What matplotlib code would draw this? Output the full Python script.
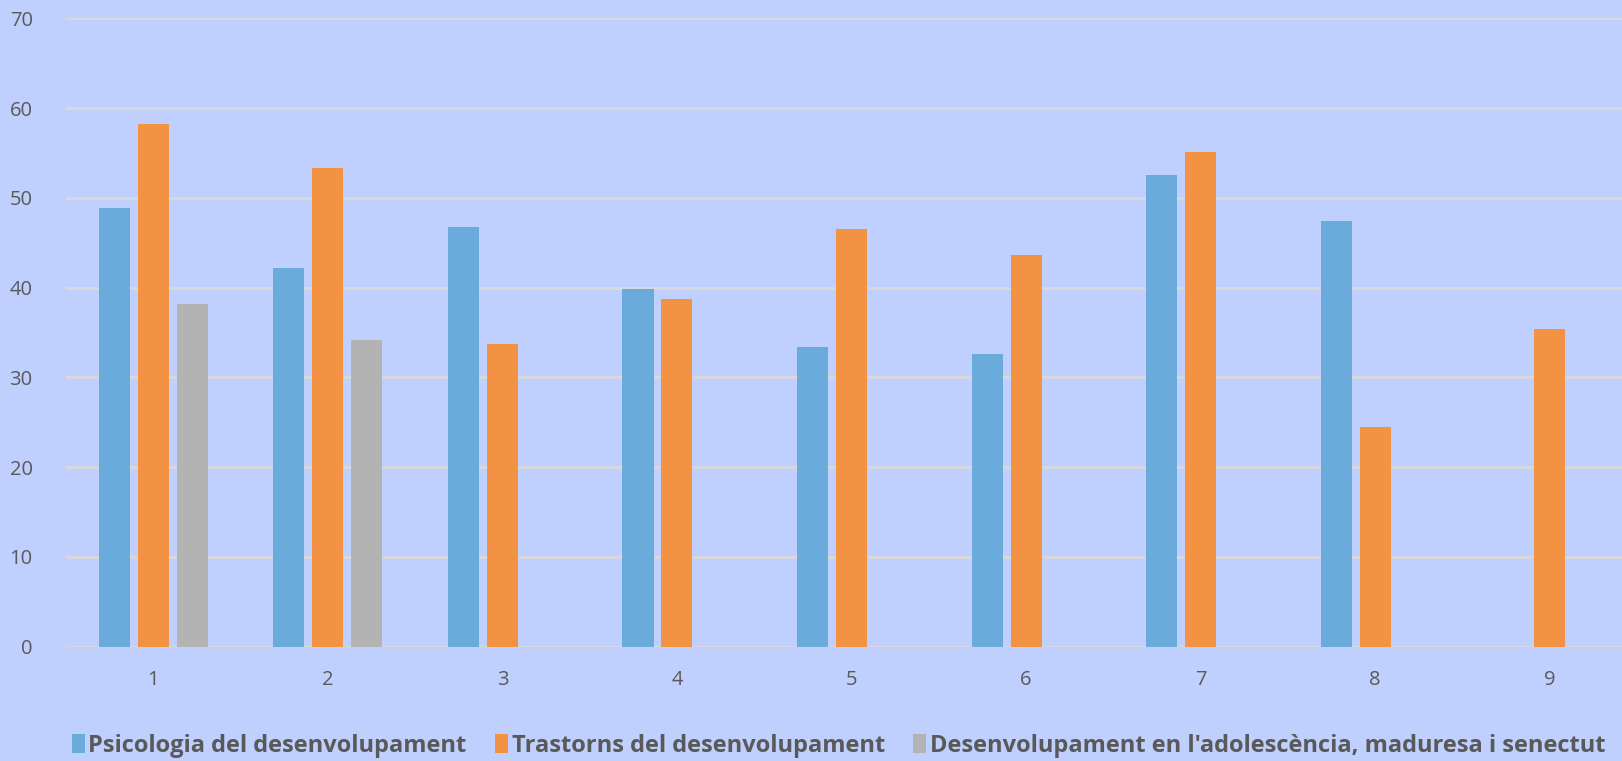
import numpy as np
import matplotlib.pyplot as plt
from matplotlib.patches import Patch

categories = ["1", "2", "3", "4", "5", "6", "7", "8", "9"]
series_names = [
    "Psicologia del desenvolupament",
    "Trastorns del desenvolupament",
    "Desenvolupament en l'adolescència, maduresa i senectut",
]
psicologia = [48.9, 42.2, 46.7, 39.9, 33.4, 32.6, 52.6, 47.4, np.nan]
trastorns = [58.2, 53.3, 33.7, 38.7, 46.5, 43.6, 55.1, 24.5, 35.4]
adolescencia = [38.2, 34.2, np.nan, np.nan, np.nan, np.nan, np.nan, np.nan, np.nan]

colors = ["#6AABDB", "#F29242", "#B3B3B3"]
bg = "#BFD0FE"
text_col = "#595959"

plt.rcParams['font.family'] = ['Open Sans', 'DejaVu Sans']

fig = plt.figure(figsize=(16.22, 7.61), dpi=100, facecolor=bg)
ax = fig.add_axes([66 / 1622, 114.3 / 761, (1637 - 66) / 1622, (742.7 - 114.3) / 761])
ax.set_facecolor(bg)

x = np.arange(len(categories))
width = 0.178
step = 0.223
for i, vals in enumerate([psicologia, trastorns, adolescencia]):
    ax.bar(x + (i - 1) * step, vals, width, color=colors[i], zorder=3)

ax.set_xlim(-0.5, len(categories) - 0.5)
ax.set_ylim(0, 70)
ax.set_yticks(range(0, 71, 10))
ax.set_xticks(x)
ax.set_xticklabels(categories)
ax.grid(axis='y', color='#D9D9D9', linewidth=2, zorder=0)
ax.set_axisbelow(True)
for s in ax.spines.values():
    s.set_visible(False)
ax.tick_params(axis='both', length=0, labelsize=14.5, colors=text_col)
ax.tick_params(axis='y', pad=24)
ax.tick_params(axis='x', pad=17)

handles = [Patch(facecolor=c, edgecolor='none') for c in colors]
leg = fig.legend(handles, series_names, loc='center', bbox_to_anchor=(0.517, 0.02),
                 ncol=3, frameon=False, handlelength=0.55, handleheight=0.9,
                 handletextpad=0.15, columnspacing=1.2,
                 prop={'family': 'Open Sans', 'weight': 'bold', 'size': 17})
for t in leg.get_texts():
    t.set_color(text_col)

fig.savefig("out.png", dpi=100, facecolor=bg)
